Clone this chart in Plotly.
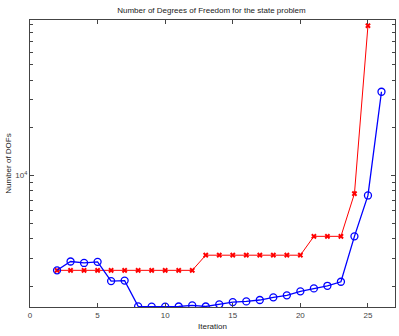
"""
nombre de degres de liberte par iteration
"""
import plotly.graph_objects as go

# donnees
iter_state = list(range(2, 26))
dofs_state = [2520, 2520, 2520, 2520, 2520, 2520, 2520, 2520, 2520, 2520, 2520,
              3140, 3140, 3140, 3140, 3140, 3140, 3140, 3140,
              4130, 4130, 4130, 7680, 88100]

iter_adj = list(range(2, 27))
dofs_adj = [2520, 2865, 2805, 2850, 2155, 2170, 1494, 1486, 1486, 1490, 1514,
            1490, 1538, 1589, 1605, 1637, 1702, 1752, 1857, 1938, 2013, 2134,
            4130, 7480, 33750]

x_ticks = [0, 5, 10, 15, 20, 25]
y_major = [10000]
y_minor = [2000, 3000, 4000, 5000, 6000, 7000, 8000, 9000,
           20000, 30000, 40000, 50000, 60000, 70000, 80000, 90000]

fig = go.Figure()
fig.add_trace(go.Scatter(x=iter_state, y=dofs_state, mode="lines+markers",
                         line=dict(color="#ff0000", width=1),
                         marker=dict(symbol="x", size=5, color="#ff0000")))
fig.add_trace(go.Scatter(x=iter_adj, y=dofs_adj, mode="lines+markers",
                         line=dict(color="#0000ff", width=1.3),
                         marker=dict(symbol="circle-open", size=7, color="#0000ff",
                                     line=dict(width=1.3))))

axe = dict(showline=True, linecolor="#444", linewidth=1, mirror="ticks",
           ticks="inside", ticklen=4, tickcolor="#444", showgrid=False,
           zeroline=False, tickfont=dict(size=8, color="#444"))

fig.update_layout(
    width=399, height=336,
    margin=dict(l=30, r=4, t=20, b=29),
    paper_bgcolor="white", plot_bgcolor="white",
    showlegend=False,
    font=dict(family="Liberation Sans, Arial", size=8, color="#222"),
    title=dict(text="Number of Degrees of Freedom for the state problem",
               x=0.53, xanchor="center", y=0.97, yanchor="middle",
               font=dict(size=8)),
    xaxis=dict(axe, range=[0, 27], tickvals=x_ticks,
               title=dict(text="Iteration", standoff=4, font=dict(size=8))),
    yaxis=dict(axe, type="log", range=[3.17, 4.981],
               tickvals=y_major, ticktext=["10<sup>4</sup>"],
               minor=dict(tickmode="array", tickvals=y_minor, ticks="inside",
                          ticklen=3, tickcolor="#444", showgrid=False),
               title=dict(text="Number of DOFs", standoff=2, font=dict(size=8))),
)

# pas de marge autour de la page, pas de barre d'outils
fig.write_html("out.html", config={"displayModeBar": False},
               post_script="document.body.style.margin='0';")
